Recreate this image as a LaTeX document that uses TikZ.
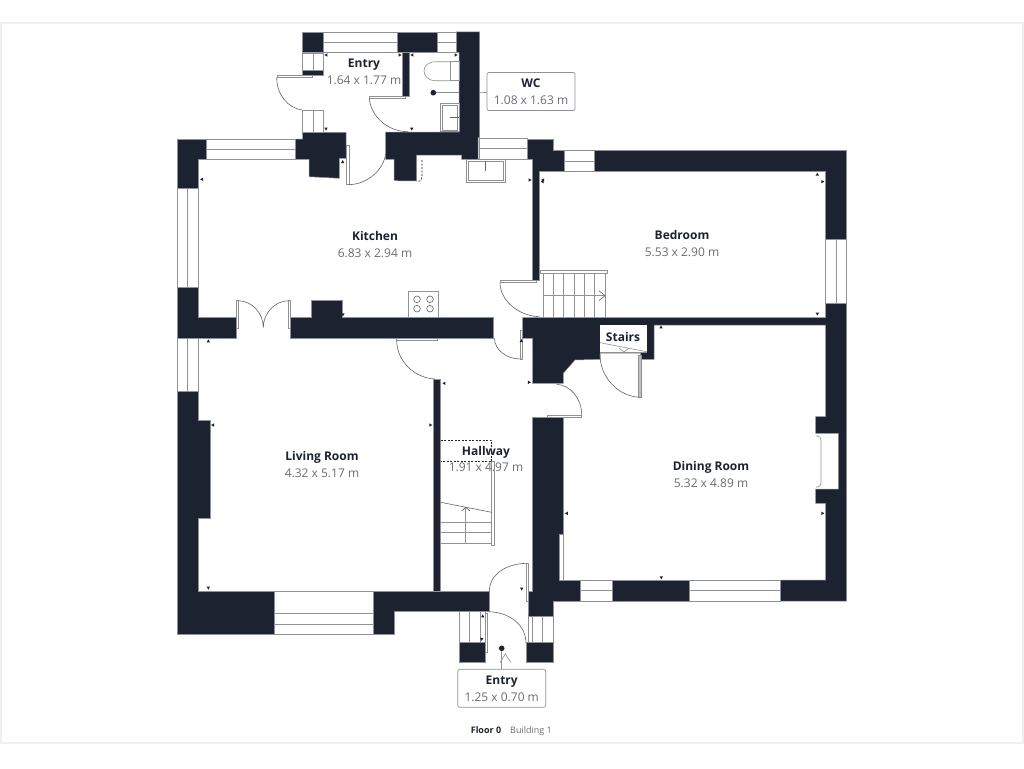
\documentclass[tikz,border=0pt]{standalone}
\usepackage{fontspec}
\setmainfont{Open Sans}
\definecolor{wallc}{HTML}{1C2230}
\definecolor{linec}{HTML}{8E9198}
\definecolor{dimc}{HTML}{6A6D74}
\definecolor{framec}{HTML}{F0F0F0}
\tikzset{
  wall/.style={fill=wallc, draw=linec, line width=0.5pt},
  pane/.style={fill=white, draw=linec, line width=0.8pt},
  thin line/.style={draw=wallc!70!white, line width=0.6pt},
  dash line/.style={draw=wallc, line width=0.6pt, dash pattern=on 2pt off 1.5pt},
  leaf/.style={fill=white, draw=linec, line width=0.7pt},
  roomname/.style={font=\fontsize{12}{14}\selectfont\bfseries, text=wallc, inner sep=0pt, anchor=base, yshift=-4.4pt},
  roomsize/.style={font=\fontsize{12}{14}\selectfont, text=dimc, inner sep=0pt, anchor=base, yshift=-4pt},
  tagbox/.style={fill=white, draw=linec, rounded corners=2pt, line width=0.7pt},
  mark tri/.style={fill=wallc, draw=none}
}
% small triangle on a dimension end
\newcommand{\tri}[3]{\fill[mark tri, shift={(#1,#2)}, rotate=#3] (-1.7,1.4) -- (1.7,1.4) -- (0,-1.6) -- cycle;}
\begin{document}
\begin{tikzpicture}[x=1pt, y=-1pt]
  \useasboundingbox (0,0) rectangle (1024,768);
  \fill[white] (0,0) rectangle (1024,768);
  \draw[framec, line width=1.5pt] (0.8,22.8) rectangle (1023.2,743);

  % Fireplace and grey lining first
  \draw[linec, line width=0.7pt] (563.3,534) -- (563.3,580.7);

  % Walls
  \path[wall] (302.3,32) rectangle (323.3,52.3);
  \path[wall] (397,32) rectangle (437,52.3);
  \path[wall] (456,32) -- (479.5,32) -- (479.5,137.5) -- (478,137.5) -- (478,159.3) -- (461.7,159.3) -- (461.7,155) -- (416.7,155) -- (416.7,181) -- (394,180.7) -- (394,159.3) -- (385.7,159.3) -- (385.7,132) -- (459,132) -- (459,52.3) -- (456,52.3) -- cycle;
  \path[wall] (402,52) rectangle (409,96);
  \path[wall] (302.7,70) rectangle (323.3,75);
  \path[wall] (302.7,132.3) -- (346,132.3) -- (346,158.3) -- (339.3,158.3) -- (339.3,178.3) -- (309,176.7) -- (309,159.3) -- (295.7,159.3) -- (295.7,139) -- (302.7,139) -- cycle;
  \path[wall] (177.3,139) -- (206,139) -- (206,159.3) -- (198.3,159.3) -- (198.3,188.3) -- (177.3,188.3) -- cycle;
  \path[wall] (177.3,287.7) -- (198.3,287.7) -- (198.3,317.3) -- (236,317.3) -- (236,338.3) -- (177.3,338.3) -- cycle;
  \path[wall] (290.7,317.3) -- (311,317.3) -- (311,300) -- (342,300) -- (342,317.3) -- (493.3,317.3) -- (493.3,338.3) -- (290.7,338.3) -- cycle;
  \path[wall] (177.3,391.7) -- (198.3,391.7) -- (198.3,420) -- (210.3,420) -- (210.3,518.3) -- (198.3,518.3) -- (198.3,591) -- (274.7,591) -- (274.7,634.3) -- (177.3,634.3) -- cycle;
  \path[wall] (373.3,591) -- (489.3,591) -- (489.3,611.7) -- (394,611.7) -- (394,634.3) -- (373.3,634.3) -- cycle;
  \path[wall] (433.3,379) rectangle (440.7,591);
  \path[wall] (527.3,139) -- (553.3,139) -- (553.3,150.7) -- (564,150.7) -- (564,171.3) -- (539.3,171.3) -- (539.3,280.7) -- (532.7,280.7) -- (532.7,159.3) -- (527.3,159.3) -- cycle;
  \path[wall] (594,150.7) -- (846.7,150.7) -- (846.7,239) -- (825.7,239) -- (825.7,171.3) -- (594,171.3) -- cycle;
  \path[wall] (522.7,317.7) -- (825.7,317.7) -- (825.7,303.3) -- (846.7,303.3) -- (846.7,601) -- (780,601) -- (780,580) -- (825.7,580) -- (825.7,503.3) -- (815.7,503.3) -- (815.7,489) -- (838.3,489) -- (838.3,433.3) -- (815.7,433.3) -- (815.7,416.7) -- (825.7,416.7) -- (825.7,325) -- (654,325) -- (654,359.3) -- (640.7,359.3) -- (640.7,353) -- (600,353) -- (600,359.3) -- (575,360) -- (563.3,373.3) -- (563.3,383.3) -- (532.7,383.3) -- (532.7,338.3) -- (522.7,338.3) -- cycle;
  \path[fill=white] (600,325) rectangle (646.7,352);
  \path[wall] (612.3,580) rectangle (689,601);
  \path[wall] (532.7,417.7) -- (563.3,417.7) -- (563.3,534) -- (559.3,534) -- (559.3,580.7) -- (580,580.7) -- (580,601.7) -- (553.3,601.7) -- (553.3,616) -- (528.3,616) -- (528.3,591) -- (532.7,591) -- cycle;
  \path[wall] (459,642.3) rectangle (485,662.7);
  \path[wall] (526,642.3) rectangle (553.3,662.7);

  % Windows
  \foreach \xa/\ya/\xb/\yb in {323.3/32/397/52.3, 437/32/456/52.3, 206/139/295.7/159.3, 479.5/138/527.3/159.3, 564/150.7/594/171.3, 580/580.5/612.3/601, 689/580.5/780/601}
    \draw[pane] (\xa,\ya) rectangle (\xb,\yb) (\xa,{(\ya+\yb)/2}) -- (\xb,{(\ya+\yb)/2});
  \foreach \xa/\ya/\xb/\yb in {177.3/188.3/198.3/287.7, 177.3/338.3/198.3/391.7, 825.7/239/846.7/303.3}
    \draw[pane] (\xa,\ya) rectangle (\xb,\yb) ({(\xa+\xb)/2},\ya) -- ({(\xa+\xb)/2},\yb);
  \draw[pane] (274.7,591) rectangle (373.3,634.3) (274.7,613.3) -- (373.3,613.3) (274.7,624) -- (373.3,624);
  \draw[pane] (302.7,53) rectangle (323.3,70) (313,53) -- (313,70);
  \draw[pane] (302.7,110.7) rectangle (323.3,132.3) (313,110.7) -- (313,132.3);
  \draw[pane] (459,611.7) rectangle (485,642.3) (469.3,611.7) -- (469.3,642.3) (480,611.7) -- (480,642.3);
  \draw[pane] (528.3,616) rectangle (553.3,642.3) (532.7,616) -- (532.7,642.3) (542.7,616) -- (542.7,642.3);

  % Doors
  \draw[leaf] (277,75.5) rectangle (312,77.5);
  \draw[thin line] (276.7,77.5) .. controls (276.7,95) and (288,108) .. (302,110);
  \draw[leaf] (346.7,145.7) rectangle (349,184.7);
  \draw[thin line] (348,184.7) .. controls (367,184.7) and (384,170) .. (385.7,153.3);
  \draw[leaf] (369.3,96) rectangle (405.7,98.3);
  \draw[thin line] (369.3,98.3) .. controls (371,117) and (388,131.7) .. (408.3,131.7);
  \draw[leaf] (236,300.7) rectangle (238.3,328);
  \draw[leaf] (288.3,300.7) rectangle (290.7,328);
  \draw[thin line] (238.3,300.7) .. controls (252,301) and (263.3,313) .. (263.3,327.5) .. controls (263.3,313) and (275,301) .. (288.3,300.7);
  \draw[leaf] (396.7,338.3) rectangle (437.3,340.7);
  \draw[thin line] (396.7,340.7) .. controls (397,361) and (414,378) .. (435,379);
  \draw[leaf] (520,330) rectangle (522.3,359);
  \draw[thin line] (494.3,338.3) .. controls (495,350) and (506,359) .. (520.7,359);
  \draw[leaf] (500,280) rectangle (536.7,282.7);
  \draw[thin line] (500,282.7) .. controls (500,300) and (518,316) .. (539.3,316.7);
  \draw[leaf] (547.7,415) rectangle (581.7,417.7);
  \draw[thin line] (556.7,384.3) .. controls (570,385) and (581.7,398) .. (581.7,415);
  \draw[leaf, fill=linec!60!white] (638.7,355.7) rectangle (641,397.3);
  \draw[thin line] (600,355) .. controls (600,376) and (617,396) .. (639.3,397.3);
  \draw[leaf] (526,563.3) rectangle (528,601.7);
  \draw[thin line] (526,563.3) .. controls (505,564) and (489.3,575) .. (489.3,591.7);
  \draw[leaf] (485,613.3) rectangle (487.3,652.7);
  \draw[thin line] (489.3,611.7) .. controls (510,612.5) and (526,625) .. (526,643.3);

  % Kitchen fittings
  \draw[pane] (466.7,159.3) rectangle (505,182.3);
  \draw[pane, line width=0.6pt] (468.5,161) rectangle (503.2,180.6);
  \draw[thin line] (485.7,161) -- (485.7,171);
  \draw[dash line] (422,160) -- (422,176) .. controls (422,180) and (420,182) .. (417,182);
  \draw[thin line, linec] (408.3,291) rectangle (438.3,317.7);
  \foreach \cx/\cy in {417/299.3, 430/299.3, 417/308.7, 430/308.7}
    \draw[thin line] (\cx,\cy) circle (3.3);

  % WC fittings
  \draw[thin line, linec] (450.7,61.7) rectangle (459,80.7);
  \draw[thin line, linec] (450.7,61.7) -- (436,61.7) .. controls (428,61.7) and (424,66) .. (424,71) .. controls (424,76) and (428,80.7) .. (436,80.7) -- (450.7,80.7);
  \draw[pane] (440.7,103.3) rectangle (459,131.7);
  \draw[pane, line width=0.6pt] (442.5,105) rectangle (457.5,130);
  \draw[thin line] (450,117.3) -- (459,117.3);
  \node[fill=wallc, circle, inner sep=0pt, minimum size=5.6pt] (wcdrain) at (433.3,92.7) {};
  \draw[thin line, linec] (wcdrain) -- (459,92.7);

  % Stairs
  \draw[pane] (540.7,270.7) rectangle (607.3,273.3);
  \foreach \sx in {543.3,553.3,563.3,574,584.3,594.7,605}
    \draw[thin line, linec] (\sx,273.3) -- (\sx,317.7);
  \draw[thin line, linec] (543.3,295.7) -- (605,295.7);
  \draw[thin line] (599,290.7) -- (605,295.7) -- (599,300.7);
  \draw[thin line, linec] (600,342.7) -- (646.7,351.7);
  \draw[linec, line width=0.7pt] (600,352.7) -- (646.7,352.7);
  \draw[thin line, linec] (619,348) -- (624,352) -- (629,348);
  \draw[dash line] (440.7,440) -- (491.7,440) -- (491.7,461.7) -- (440.7,461.7);
  \draw[leaf] (491.7,461.7) rectangle (494,545);
  \draw[thin line] (440.7,502.3) -- (491.7,512.3);
  \foreach \sy in {522.3,532.3,543.3}
    \draw[thin line, linec] (440.7,\sy) -- (491.7,\sy);
  \draw[thin line, linec] (465.7,507.3) -- (465.7,543.3);
  \draw[thin line] (461.7,511) -- (465.7,507.3) -- (470,511);

  % Dining room fire surround
  \draw[thin line, linec] (816,436) -- (818,436) .. controls (820,437) and (821,438) .. (821,440) -- (821,483) .. controls (821,485) and (820,486) .. (818,487) -- (816,487);

  % Dimension marks
  \foreach \mx/\my/\ma in {326/55/90, 400/55/-90, 412/55/90, 456/55/-90, 326/129/180, 411.7/129/180, 342.7/161.7/0, 530/180/-90, 542.7/180/90, 201.7/179.3/90, 208.3/341/0, 343/314.7/180, 817.3/174.3/0, 822.7/181.7/-90, 817.3/314/180, 542.3/181.7/90, 661/327/0, 566.5/513.3/90, 822.7/513.3/-90, 661.3/577.7/180, 212.7/425/90, 208.3/588/180, 444/383.3/90, 430.7/425/-90, 529.3/382.3/-90, 521.7/589/180, 482.7/616/0, 481.7/639.3/180, 530/615/90, 521.3/340.7/0}
    {\tri{\mx}{\my}{\ma}}

  % Entry marker
  \node[fill=wallc, circle, inner sep=0pt, minimum size=5.6pt] (entrydot) at (501.7,648.3) {};
  \draw[thin line, linec] (500,662.7) -- (505.3,654) -- (511,662.7);

  % Labels
  \node[roomname] (entryname) at (364,63) {Entry};
  \node[roomsize] (entrysize) at (364,80) {1.64 x 1.77 m};
  \node[roomname] (kitchenname) at (375,236) {Kitchen};
  \node[roomsize] (kitchensize) at (375,253) {6.83 x 2.94 m};
  \node[roomname] (bedroomname) at (682,235) {Bedroom};
  \node[roomsize] (bedroomsize) at (682,252) {5.53 x 2.90 m};
  \node[roomname] (hallwayname) at (486,451) {Hallway};
  \node[roomsize] (hallwaysize) at (486,467) {1.91 x 4.97 m};
  \node[roomname] (livingname) at (322,456) {Living Room};
  \node[roomsize] (livingsize) at (322,473) {4.32 x 5.17 m};
  \node[roomname] (diningname) at (711,466) {Dining Room};
  \node[roomsize] (diningsize) at (711,483) {5.32 x 4.89 m};
  \node[roomname] (stairsname) at (623,337) {Stairs};

  % Tagged rooms
  \node[tagbox, minimum width=88pt, minimum height=38pt] (wcbox) at (531,91.5) {};
  \node[roomname] (wcname) at (531,83) {WC};
  \node[roomsize] (wcsize) at (531,100) {1.08 x 1.63 m};
  \coordinate (wcend) at (479.5,92.7);
  \draw[linec, line width=0.7pt] (wcend) -- (wcbox);
  \node[tagbox, minimum width=88pt, minimum height=38pt] (porchbox) at (501.7,688.3) {};
  \node[roomname] (porchname) at (501.7,680) {Entry};
  \node[roomsize] (porchsize) at (501.7,697) {1.25 x 0.70 m};
  \draw[linec, line width=0.7pt] (entrydot) -- (porchbox);

  % Footer
  \node[font=\fontsize{9}{11}\selectfont\bfseries, text=wallc, inner sep=0pt, anchor=base] (floorname) at (486,733.5) {Floor 0};
  \node[font=\fontsize{9}{11}\selectfont, text=dimc, inner sep=0pt, anchor=base] (buildname) at (531,733.5) {Building 1};
\end{tikzpicture}
\end{document}
